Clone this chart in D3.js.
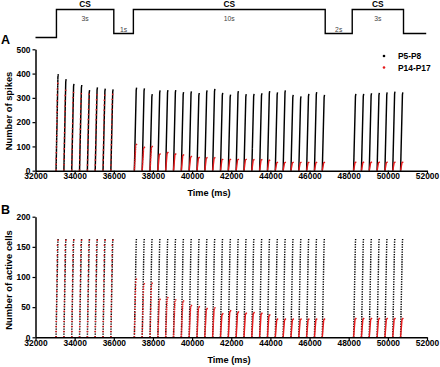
<!DOCTYPE html>
<html>
<head>
<meta charset="utf-8">
<script src="https://cdn.jsdelivr.net/npm/d3@7"></script>
<style>
  body { margin: 0; background: #fff; }
  svg { font-family: "Liberation Sans", Arial, sans-serif; }
  .axis path, .axis line { stroke: #000; }
  .axis text { font-size: 8.4px; font-weight: bold; fill: #000; }
</style>
</head>
<body>
<script>
// burst onsets (ms) for the three CS blocks
var onsets = [33050, 33450, 33850, 34250, 34650, 35050, 35450, 35850,
  37050, 37450, 37850, 38250, 38650, 39050, 39450, 39850, 40250, 40650, 41050, 41450, 41850,
  42250, 42650, 43050, 43450, 43850, 44250, 44650, 45050, 45450, 45850, 46250, 46650,
  48250, 48650, 49050, 49450, 49850, 50250, 50650];

// panel A, number of spikes (peak of each burst)
var spikesP5 = [398, 377, 358, 353, 332, 343, 338, 335,
  342, 339, 315, 331, 332, 332, 324, 327, 320, 331, 337, 321, 313,
  328, 315, 316, 319, 328, 323, 331, 312, 306, 316, 324, 312,
  316, 316, 319, 321, 323, 326, 323];
var spikesP14 = [380, 350, 340, 335, 332, 330, 328, 332,
  112, 99, 103, 71, 77, 71, 67, 60, 56, 55, 55, 48, 48,
  48, 48, 47, 47, 45, 35, 35, 35, 35, 35, 35, 35,
  36, 36, 36, 36, 36, 36, 36];

// panel B, number of active cells
var cellsP5 = [165, 165, 165, 165, 165, 165, 165, 165,
  165, 165, 165, 165, 165, 165, 165, 165, 165, 165, 165, 165, 165,
  165, 165, 165, 165, 165, 165, 165, 165, 165, 165, 165, 165,
  165, 165, 165, 165, 165, 165, 165];
var cellsP14 = [168, 168, 168, 168, 168, 168, 168, 168,
  100, 92, 93, 65, 68, 64, 62, 54, 52, 49, 50, 40, 45,
  43, 41, 42, 41, 38, 31, 31, 31, 31, 31, 31, 31,
  32, 32, 32, 32, 32, 32, 32];

var xTicks = [32000, 34000, 36000, 38000, 40000, 42000, 44000, 46000, 48000, 50000, 52000];
var spikeTicks = [0, 100, 200, 300, 400, 500];
var cellTicks = [0, 50, 100, 150, 200];
var seriesNames = ["P5-P8", "P14-P17"];
var seriesColors = ["#000", "#e41a1c"];

// stimulus protocol drawn on top
var protoTimes = [32000, 33070, 36000, 37000, 46800, 48180, 50800, 51960];
var protoLevels = ["base", "cs", "off", "cs", "off", "cs", "off"];
var protoLabels = ["", "3s", "1s", "10s", "2s", "3s", ""];

// shape of one burst: ms after onset, fraction of the peak
var blackShape = [[0, 0], [95, 0.97], [115, 1]];
var redShape = [[0, 0], [70, 0.92], [140, 1]];

var width = 440, height = 367;
var svg = d3.select("body").append("svg")
  .attr("width", width)
  .attr("height", height);

var x = d3.scaleLinear().domain([32000, 52000]).range([35.5, 427]);
var yA = d3.scaleLinear().domain([0, 500]).range([170.7, 49.3]);
var yB = d3.scaleLinear().domain([0, 200]).range([337.3, 216.7]);
var yProto = d3.scaleOrdinal().domain(["base", "off", "cs"]).range([37.5, 33.5, 9.5]);

// protocol trace
var stepPts = [];
protoLevels.forEach(function(lv, i) {
  stepPts.push([protoTimes[i], lv], [protoTimes[i + 1], lv]);
});
svg.append("path")
  .attr("d", d3.line().x(function(d){return x(d[0])}).y(function(d){return yProto(d[1])})(stepPts))
  .attr("fill", "none")
  .attr("stroke", "#000")
  .attr("stroke-width", 1.4);

protoLevels.forEach(function(lv, i) {
  var mid = x((protoTimes[i] + protoTimes[i + 1]) / 2);
  if (lv == "cs") {
    svg.append("text").attr("x", mid).attr("y", 7.2)
      .attr("text-anchor", "middle").attr("font-size", 8.4).attr("font-weight", "bold")
      .text("CS");
    svg.append("text").attr("x", mid).attr("y", 21)
      .attr("text-anchor", "middle").attr("font-size", 6.8).attr("fill", "#444")
      .text(protoLabels[i]);
  } else if (protoLabels[i]) {
    svg.append("text").attr("x", mid).attr("y", 32.2)
      .attr("text-anchor", "middle").attr("font-size", 6.8).attr("fill", "#444")
      .text(protoLabels[i]);
  }
});

function panel(y, ticks, p5, p14, opts) {
  var g = svg.append("g");
  var line = d3.line().x(function(d){return x(d[0])}).y(function(d){return y(d[1])});

  function bursts(vals, shape, color, nDots, dot) {
    g.append("g").selectAll("path")
      .data(vals)
      .join("path")
        .attr("d", function(v, i) {
          return line(shape.map(function(s){return [onsets[i] + s[0], v * s[1]]}));
        })
        .attr("fill", "none")
        .attr("stroke", color)
        .attr("stroke-width", 1.45)
        .attr("stroke-dasharray", function() {
          var len = this.getTotalLength();
          return dot + "," + Math.max(0, len / nDots - dot);
        });
  }
  bursts(p5, blackShape, seriesColors[0], opts.blackDots, 1.3);
  bursts(p14, redShape, seriesColors[1], opts.redDots, 1.4);

  g.append("g").attr("class", "axis")
    .attr("transform", "translate(0," + y(0) + ")")
    .call(d3.axisBottom(x).tickValues(xTicks).tickSize(3).tickSizeOuter(0).tickPadding(-0.3).tickFormat(d3.format("d")));
  g.append("g").attr("class", "axis")
    .attr("transform", "translate(" + x(32000) + ",0)")
    .call(d3.axisLeft(y).tickValues(ticks).tickSize(3).tickSizeOuter(0).tickPadding(2));
  g.selectAll(".axis .domain").attr("stroke-width", 1.5);
  g.selectAll(".axis .tick line").attr("stroke-width", 1.2);

  g.append("text")
    .attr("x", opts.xTitleX).attr("y", y(0) + 25.5)
    .attr("text-anchor", "middle").attr("font-size", 9.2).attr("font-weight", "bold")
    .text("Time (ms)");
  g.append("text")
    .attr("transform", "translate(11.5," + opts.yTitleY + ") rotate(-90)")
    .attr("text-anchor", "middle").attr("font-size", 9.4).attr("font-weight", "bold")
    .text(opts.yTitle);
  g.append("text")
    .attr("x", 1).attr("y", opts.letterY)
    .attr("font-size", 12.5).attr("font-weight", "bold")
    .text(opts.letter);
}

panel(yA, spikeTicks, spikesP5, spikesP14,
  {blackDots: 70, redDots: 16, xTitleX: 209, yTitleY: 111, yTitle: "Number of spikes", letter: "A", letterY: 43.5});
panel(yB, cellTicks, cellsP5, cellsP14,
  {blackDots: 40, redDots: 20, xTitleX: 229, yTitleY: 280, yTitle: "Number of active cells", letter: "B", letterY: 213.5});

// legend
var leg = svg.append("g").selectAll("g")
  .data(seriesNames)
  .join("g")
    .attr("transform", function(d, i){return "translate(384," + (56 + i * 11.5) + ")"});
leg.append("circle").attr("r", 1.3).attr("fill", function(d, i){return seriesColors[i]});
leg.append("text")
  .attr("x", 14).attr("y", 3)
  .attr("font-size", 8.4).attr("font-weight", "bold")
  .text(function(d){return d});
</script>
</body>
</html>
